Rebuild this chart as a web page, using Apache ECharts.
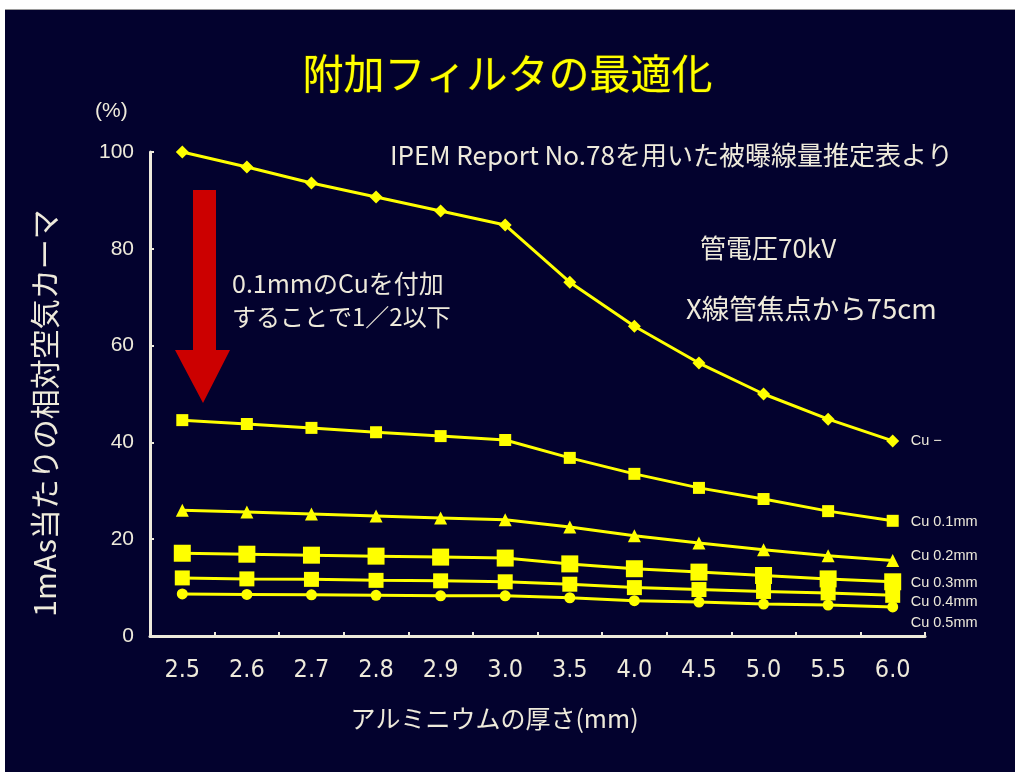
<!DOCTYPE html>
<html>
<head>
<meta charset="utf-8">
<script src="https://cdn.jsdelivr.net/npm/echarts@6/dist/echarts.min.js"></script>
<style>
  html, body { margin: 0; padding: 0; background: #ffffff; }
  #chart { width: 1015px; height: 772px; }
</style>
</head>
<body>
<div id="chart"></div>
<script>
// Aluminium filter thickness (mm)
const categories = ['2.5', '2.6', '2.7', '2.8', '2.9', '3.0', '3.5', '4.0', '4.5', '5.0', '5.5', '6.0'];

// Relative air kerma per 1 mAs (%) for each added copper thickness
const cuNone = [100, 96.9, 93.6, 90.7, 87.8, 84.9, 73.1, 64.0, 56.4, 50.0, 44.8, 40.3];
const cu01 = [44.6, 43.8, 43.0, 42.1, 41.3, 40.5, 36.8, 33.5, 30.6, 28.3, 25.8, 23.8];
const cu02 = [26.0, 25.6, 25.2, 24.8, 24.4, 24.0, 22.5, 20.7, 19.2, 17.8, 16.6, 15.6];
const cu03 = [17.1, 16.9, 16.7, 16.5, 16.3, 16.1, 14.9, 13.9, 13.2, 12.5, 11.8, 11.2];
const cu04 = [12.0, 11.8, 11.7, 11.5, 11.4, 11.2, 10.7, 10.0, 9.6, 9.2, 8.9, 8.4];
const cu05 = [8.7, 8.6, 8.5, 8.4, 8.3, 8.3, 7.9, 7.3, 7.0, 6.6, 6.4, 6.0];

const seriesNames = ['Cu −', 'Cu 0.1mm', 'Cu 0.2mm', 'Cu 0.3mm', 'Cu 0.4mm', 'Cu 0.5mm'];
const seriesData = [cuNone, cu01, cu02, cu03, cu04, cu05];

const yTicks = [0, 20, 40, 60, 80, 100];

const YELLOW = '#ffff00';
const CREAM = '#eeeadb';
const NAVY = '#03022e';
const JP = '"Noto Sans CJK JP", "Noto Sans", sans-serif';

// marker shape, size and end-label vertical shift per series
const markerStyles = [
  { symbol: 'diamond', size: 13, dy: 0 },
  { symbol: 'rect', size: 12, dy: 1 },
  { symbol: 'triangle', size: 13, dy: -4 },
  { symbol: 'rect', size: 17, dy: 1 },
  { symbol: 'rect', size: 15, dy: 7 },
  { symbol: 'circle', size: 11, dy: 16 }
];

const series = seriesData.map((data, i) => ({
  name: seriesNames[i],
  type: 'line',
  data: data,
  symbol: markerStyles[i].symbol,
  symbolSize: markerStyles[i].size,
  showAllSymbol: true,
  lineStyle: { color: YELLOW, width: 3 },
  itemStyle: { color: YELLOW },
  z: 3 + i,
  endLabel: {
    show: true,
    formatter: seriesNames[i],
    color: CREAM,
    fontSize: 14.5,
    fontFamily: '"Liberation Sans", Arial, sans-serif',
    distance: 18,
    offset: [0, markerStyles[i].dy]
  }
}));

const chart = echarts.init(document.getElementById('chart'), null, { renderer: 'canvas' });

chart.setOption({
  animation: false,
  backgroundColor: NAVY,
  grid: { left: 150, right: 90, top: 152, bottom: 136 },
  xAxis: {
    type: 'category',
    data: categories,
    boundaryGap: true,
    name: 'アルミニウムの厚さ(mm)',
    nameLocation: 'middle',
    nameGap: 70,
    nameTextStyle: { color: CREAM, fontSize: 25, fontFamily: JP, padding: [0, 86, 0, 0] },
    axisLine: { show: true, lineStyle: { color: CREAM, width: 3 } },
    axisTick: { show: true, inside: true, length: 4, lineStyle: { color: CREAM, width: 2 } },
    axisLabel: {
      color: CREAM,
      fontSize: 25,
      fontFamily: '"DejaVu Sans Condensed", "Liberation Sans Narrow", "Liberation Sans", sans-serif',
      margin: 22
    },
    splitLine: { show: false }
  },
  yAxis: {
    type: 'value',
    min: yTicks[0],
    max: yTicks[yTicks.length - 1],
    interval: 20,
    axisLine: { show: true, lineStyle: { color: CREAM, width: 3 } },
    axisTick: { show: true, inside: true, length: 4, lineStyle: { color: CREAM, width: 2 } },
    axisLabel: {
      color: CREAM,
      fontSize: 21,
      fontFamily: '"Liberation Sans", Arial, sans-serif',
      margin: 16
    },
    splitLine: { show: false }
  },
  series: series,
  graphic: [
    // frame edges
    { type: 'rect', shape: { x: 0, y: 0, width: 1015, height: 9 }, style: { fill: '#ffffff' }, z: 100 },
    { type: 'rect', shape: { x: 0, y: 9, width: 1015, height: 1 }, style: { fill: '#9a9a9a' }, z: 100 },
    { type: 'rect', shape: { x: 0, y: 0, width: 5, height: 772 }, style: { fill: '#ffffff' }, z: 100 },
    // title
    {
      type: 'text', left: 'center', top: 52,
      style: {
        text: '附加フィルタの最適化', fill: YELLOW, font: '41px ' + JP,
        stroke: '#3a3a00', lineWidth: 1
      }
    },
    // vertical axis title
    {
      type: 'text', x: 45, y: 413, rotation: Math.PI / 2,
      style: {
        text: '1mAs当たりの相対空気カーマ', fill: CREAM, font: '30px ' + JP,
        align: 'center', verticalAlign: 'middle'
      }
    },
    // unit
    { type: 'text', x: 95, y: 101, style: { text: '(%)', fill: CREAM, font: '21px "Liberation Sans", sans-serif' } },
    // source note
    { type: 'text', x: 390, y: 142, style: { text: 'IPEM Report No.78を用いた被曝線量推定表より', fill: CREAM, font: '26px ' + JP } },
    // exposure conditions
    { type: 'text', x: 700, y: 235, style: { text: '管電圧70kV', fill: CREAM, font: '26px ' + JP } },
    { type: 'text', x: 686, y: 295, style: { text: 'X線管焦点から75cm', fill: CREAM, font: '27.5px ' + JP } },
    // annotation
    { type: 'text', x: 232, y: 271, style: { text: '0.1mmのCuを付加', fill: CREAM, font: '25px ' + JP } },
    { type: 'text', x: 232, y: 305, style: { text: 'することで1／2以下', fill: CREAM, font: '24px ' + JP } },
    // red downward arrow
    {
      type: 'polygon',
      shape: { points: [[193, 190], [216, 190], [216, 350], [230, 350], [203, 403], [175, 350], [193, 350]] },
      style: { fill: '#cc0000' },
      z: 2
    }
  ]
});
</script>
</body>
</html>
